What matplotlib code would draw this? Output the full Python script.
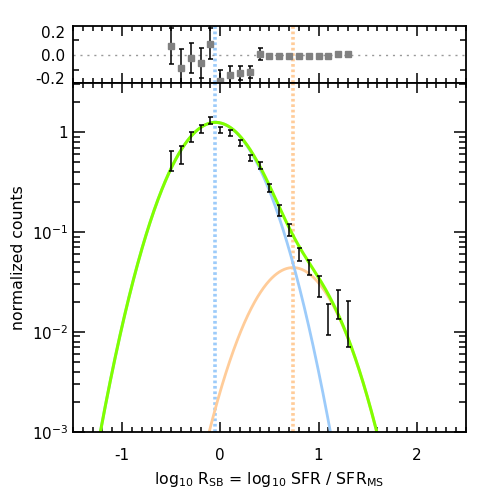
import numpy as np
import matplotlib
matplotlib.use('Agg')
import matplotlib.pyplot as plt
from matplotlib.ticker import MultipleLocator, FixedLocator, FuncFormatter, LogLocator, NullFormatter

plt.rcParams['axes.unicode_minus'] = False
plt.rcParams['mathtext.default'] = 'regular'
plt.rcParams['font.size'] = 11

# binned data (log10 R_SB bins)
xbin = np.round(np.arange(-0.5, 1.31, 0.1), 2)
counts = [0.53, 0.60, 0.90, 1.08, 1.32, 1.05, 0.98, 0.775, 0.553, 0.462,
          0.276, 0.165, 0.106, 0.060, 0.045, 0.0294, 0.0141, 0.0198, 0.0137]
counts_err = [0.12, 0.126, 0.097, 0.108, 0.11, 0.068, 0.064, 0.051, 0.040, 0.038,
              0.025, 0.021, 0.015, 0.009, 0.0077, 0.007, 0.0049, 0.0063, 0.0067]

# residuals in top panel
resid = [0.078, -0.118, -0.030, -0.075, 0.095, -0.232, -0.173, -0.161, -0.152, 0.009,
         -0.009, -0.012, -0.007, -0.014, -0.007, -0.007, -0.014, 0.007, 0.007]
resid_err = [0.157, 0.164, 0.13, 0.13, 0.136, 0.10, 0.077, 0.061, 0.054, 0.052,
             0.014, 0.012, 0.012, 0.012, 0.012, 0.012, 0.012, 0.012, 0.012]

# gaussian components: amplitude, centre, width
ms_par = [1.25, -0.05, 0.31]
sb_par = [0.044, 0.74, 0.31]

def gauss(x, p):
    return p[0]*np.exp(-(x-p[1])**2/(2*p[2]**2))

xx = np.linspace(-1.5, 2.5, 801)
ms = gauss(xx, ms_par)
sb = gauss(xx, sb_par)

c_ms = '#9ccbfa'
c_sb = '#ffcc99'
c_tot = '#80ff00'

fig = plt.figure(figsize=(4.91, 4.91), dpi=100)
ax1 = fig.add_axes([0.1487, 0.830, 0.800, 0.117])
ax2 = fig.add_axes([0.1487, 0.1208, 0.800, 0.7092])

for ax in [ax1, ax2]:
    ax.axvline(ms_par[1], color=c_ms, lw=2.6, ls=(0, (0.75, 0.75)), zorder=1)
    ax.axvline(sb_par[1], color=c_sb, lw=2.6, ls=(0, (0.75, 0.75)), zorder=1)
    ax.set_xlim(-1.5, 2.5)
    ax.xaxis.set_major_locator(MultipleLocator(1))
    ax.xaxis.set_minor_locator(MultipleLocator(0.1))
    ax.tick_params(which='both', direction='in', top=True, right=True, width=1.1)
    ax.tick_params(which='major', length=7.5)
    ax.tick_params(which='minor', length=3.5)
    for sp in ax.spines.values():
        sp.set_linewidth(1.3)

# top panel
ax1.axhline(0, color='#999999', lw=1, ls=(0, (1.5, 3.5)), zorder=1)
ax1.errorbar(xbin, resid, yerr=resid_err, fmt='s', color='#808080', ms=5,
             ecolor='black', elinewidth=1.1, capsize=1.8, capthick=1.1, zorder=3)
ax1.set_ylim(-0.25, 0.25)
ax1.set_yticks([-0.2, 0.0, 0.2])
ax1.set_yticklabels(['-0.2', '0.0', '0.2'])
ax1.yaxis.set_minor_locator(FixedLocator([-0.13, 0.0, 0.13]))
ax1.tick_params(axis='x', labelbottom=False)
ax1.tick_params(axis='y', which='major', length=0, pad=6)
ax1.tick_params(axis='y', which='minor', length=4.5)

# main panel
ax2.plot(xx, sb, color=c_sb, lw=2, zorder=2)
ax2.plot(xx, ms, color=c_ms, lw=2, zorder=2)
ax2.plot(xx, ms+sb, color=c_tot, lw=2.2, zorder=2)
ax2.errorbar(xbin, counts, yerr=counts_err, fmt='none', ecolor='black',
             elinewidth=1.1, capsize=1.8, capthick=1.1, zorder=4)
ax2.set_yscale('log')
ax2.set_ylim(1e-3, 3.07)
ax2.yaxis.set_major_locator(LogLocator(base=10, numticks=10))
ax2.yaxis.set_minor_locator(LogLocator(base=10, subs=np.arange(2, 10), numticks=10))
ax2.yaxis.set_minor_formatter(NullFormatter())

def yfmt(v, pos):
    e = int(round(np.log10(v)))
    if e == 0:
        return '1'
    return '$10^{%d}$' % e

ax2.yaxis.set_major_formatter(FuncFormatter(yfmt))
ax2.set_xticks([-1, 0, 1, 2])
ax2.set_xticklabels(['-1', '0', '1', '2'])
ax2.tick_params(axis='x', pad=12)
ax2.tick_params(axis='y', which='major', length=8.5)
ax2.tick_params(axis='y', which='minor', length=5)
ax2.set_ylabel('normalized counts', fontsize=11.3)
ax2.set_xlabel('log$_{10}$ R$_{SB}$ = log$_{10}$ SFR / SFR$_{MS}$', fontsize=11.3, labelpad=5)

fig.savefig('out.png', dpi=100)
